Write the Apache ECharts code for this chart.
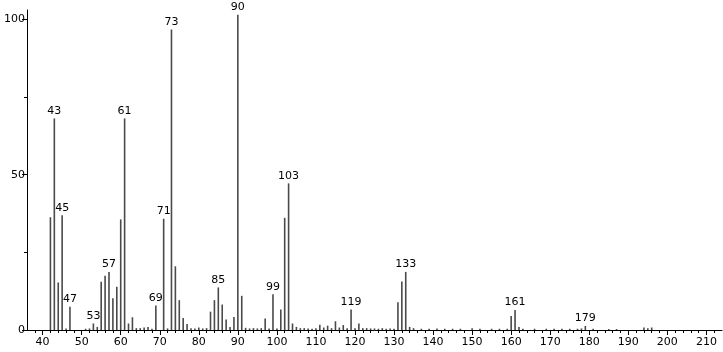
<!DOCTYPE html>
<html>
<head>
<meta charset="utf-8">
<script src="https://cdn.jsdelivr.net/npm/echarts@6/dist/echarts.min.js"></script>
<style>html,body{margin:0;padding:0;background:#fff}#c{width:723px;height:352px}</style>
</head>
<body>
<div id="c"></div>
<script>
const mz = [42,43,44,45,46,47,51,52,53,54,55,56,57,58,59,60,61,62,63,64,65,66,67,68,69,71,72,73,74,75,76,77,78,79,80,81,82,83,84,85,86,87,88,89,90,91,92,93,94,95,96,97,98,99,100,101,102,103,104,105,106,107,108,109,110,111,112,113,114,115,116,117,118,119,120,121,122,123,124,125,126,127,128,129,130,131,132,133,134,135,137,139,141,143,145,147,150,152,155,157,159,160,161,162,163,166,169,171,173,175,177,178,179,181,185,187,194,195,196];
const intensity = [36.3,68.1,15.3,36.9,0.5,7.5,0.4,0.5,2.1,1.0,15.5,17.5,18.7,10.2,13.9,35.6,68.1,2.1,4.1,0.6,0.6,0.8,1.0,0.4,7.9,35.8,0.5,96.7,20.5,9.6,3.9,1.9,0.6,0.5,0.8,0.5,0.6,5.9,9.6,13.7,8.2,3.4,1.0,4.2,101.5,11.0,0.7,0.5,0.6,0.5,0.6,3.7,0.5,11.5,0.5,6.6,36.1,47.2,2.1,1.0,0.6,0.6,0.5,0.4,0.6,1.7,0.8,1.4,0.6,2.8,0.8,1.6,0.6,6.6,0.6,2.1,0.6,0.6,0.5,0.5,0.4,0.6,0.4,0.5,0.4,8.9,15.6,18.7,1.0,0.6,0.4,0.4,0.5,0.4,0.4,0.4,0.6,0.4,0.4,0.4,0.4,4.5,6.4,1.0,0.4,0.4,0.4,0.4,0.4,0.4,0.4,0.5,1.3,0.4,0.3,0.3,0.8,0.6,0.8];
const labeledPeaks = [43,45,47,53,57,61,69,71,73,85,90,99,103,119,133,161,179];
const xMajorTicks = [40,50,60,70,80,90,100,110,120,130,140,150,160,170,180,190,200,210];
const xMinorTicks = [38,42,44,46,48,52,54,56,58,62,64,66,68,72,74,76,78,82,84,86,88,92,94,96,98,102,104,106,108,112,114,116,118,122,124,126,128,132,134,136,138,142,144,146,148,152,154,156,158,162,164,166,168,172,174,176,178,182,184,186,188,192,194,196,198,202,204,206,208,212];
const yMajorTicks = [0,50,100];
const yMinorTicks = [25,75];

const font = 'DejaVu Sans';
const data = mz.map((m,i)=>({
  value:[m,intensity[i]],
  label:{show: labeledPeaks.includes(m)}
}));

const chart = echarts.init(document.getElementById('c'));
chart.setOption({
  animation:false,
  grid:[{left:27,right:1,top:10,bottom:22}],
  xAxis:[
    {type:'value',min:36,max:214,gridIndex:0,
     axisLine:{show:true,lineStyle:{color:'#000',width:1}},
     axisTick:{show:true,length:5,customValues:xMajorTicks,lineStyle:{color:'#000'}},
     axisLabel:{show:true,customValues:xMajorTicks,color:'#000',fontFamily:font,fontSize:11,margin:7},
     splitLine:{show:false}},
    {type:'value',min:36,max:214,gridIndex:0,position:'bottom',
     axisLine:{show:false},
     axisTick:{show:true,length:3,customValues:xMinorTicks,lineStyle:{color:'#000'}},
     axisLabel:{show:false},
     splitLine:{show:false}}
  ],
  yAxis:[
    {type:'value',min:0,max:103,gridIndex:0,
     axisLine:{show:true,lineStyle:{color:'#000',width:1}},
     axisTick:{show:true,length:5,customValues:yMajorTicks,lineStyle:{color:'#000'}},
     axisLabel:{show:true,customValues:yMajorTicks,color:'#000',fontFamily:font,fontSize:11,margin:2},
     splitLine:{show:false}},
    {type:'value',min:0,max:103,gridIndex:0,position:'left',
     axisLine:{show:false},
     axisTick:{show:true,length:3,customValues:yMinorTicks,lineStyle:{color:'#000'}},
     axisLabel:{show:false},
     splitLine:{show:false}}
  ],
  series:[{
    type:'bar',xAxisIndex:0,yAxisIndex:0,
    barWidth:1.6,
    itemStyle:{color:'#4a4a4a'},
    label:{position:'top',distance:2,color:'#000',fontFamily:font,fontSize:11,formatter:p=>String(p.value[0])},
    data:data
  }]
});
</script>
</body>
</html>
